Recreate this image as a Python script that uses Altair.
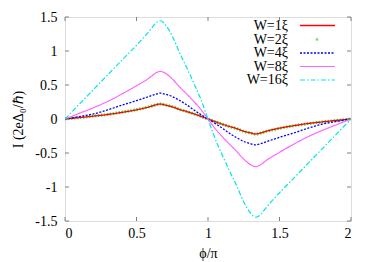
import altair as alt
import pandas as pd

phi = [0, 0.1, 0.2, 0.3, 0.4, 0.5, 0.6, 0.63, 0.667, 0.7, 0.75, 0.8, 0.85, 0.9, 0.95, 1.0,
       1.05, 1.1, 1.15, 1.2, 1.25, 1.3, 1.333, 1.37, 1.4, 1.5, 1.6, 1.7, 1.8, 1.9, 2.0]

w1 = [0, 0.02, 0.042, 0.066, 0.098, 0.135, 0.185, 0.204, 0.22, 0.205, 0.18, 0.14, 0.11, 0.076, 0.038, 0,
      -0.038, -0.076, -0.11, -0.14, -0.18, -0.205, -0.22, -0.204, -0.185, -0.135, -0.098, -0.066, -0.042, -0.02, 0]
w2 = [0, 0.021, 0.044, 0.068, 0.1, 0.137, 0.187, 0.206, 0.222, 0.207, 0.182, 0.142, 0.111, 0.077, 0.039, 0,
      -0.039, -0.077, -0.111, -0.142, -0.182, -0.207, -0.222, -0.206, -0.187, -0.137, -0.1, -0.068, -0.044, -0.021, 0]
w4 = [0, 0.035, 0.075, 0.135, 0.205, 0.27, 0.34, 0.362, 0.38, 0.365, 0.33, 0.275, 0.21, 0.135, 0.065, 0,
      -0.065, -0.135, -0.21, -0.275, -0.33, -0.365, -0.38, -0.362, -0.34, -0.27, -0.205, -0.135, -0.075, -0.035, 0]
w8 = [0, 0.083, 0.167, 0.26, 0.37, 0.49, 0.62, 0.67, 0.70, 0.675, 0.59, 0.475, 0.37, 0.26, 0.14, 0,
      -0.14, -0.26, -0.37, -0.475, -0.59, -0.675, -0.70, -0.67, -0.62, -0.49, -0.37, -0.26, -0.167, -0.083, 0]
w16 = [0, 0.218, 0.435, 0.652, 0.87, 1.085, 1.32, 1.40, 1.445, 1.39, 1.22, 0.98, 0.76, 0.53, 0.29, 0,
       -0.29, -0.53, -0.76, -0.98, -1.22, -1.39, -1.445, -1.40, -1.32, -1.085, -0.87, -0.652, -0.435, -0.218, 0]

names = ["W=1ξ", "W=2ξ", "W=4ξ", "W=8ξ", "W=16ξ"]
series = [w1, w2, w4, w8, w16]
colors = ["#ff0000", "#44dd44", "#0000ff", "#ff66ff", "#00e5e5"]
dashes = [[1, 0], [1.5, 1.5], [2, 1.5], [1, 0], [5, 2, 1.5, 2]]
widths = [1.3, 3, 1.3, 1.2, 1.2]

x_ticks = [0, 0.5, 1, 1.5, 2]
y_ticks = [-1.5, -1, -0.5, 0, 0.5, 1, 1.5]

W, H = 286, 204
FONT = "Liberation Serif"
FRAME = "#808080"

xscale = alt.Scale(domain=[0, 2], nice=False, zero=False)
yscale = alt.Scale(domain=[-1.5, 1.5], nice=False)

xaxis = alt.Axis(values=x_ticks, grid=False, domain=False, ticks=False,
                 labelExpr="toString(datum.value)", labelFont=FONT, labelFontSize=14,
                 labelColor="black", labelPadding=5, title="ϕ/π", titleFont=FONT,
                 titleFontSize=14, titleFontWeight="normal", titleColor="black",
                 titleX=W / 2, titleY=32, titleBaseline="middle", titleAlign="center")
yaxis = alt.Axis(values=y_ticks, grid=False, domain=False, ticks=False,
                 labelExpr="toString(datum.value)", labelFont=FONT, labelFontSize=14,
                 labelColor="black", labelPadding=8, title="I (2eΔ₀/ℏ)", titleFont=FONT,
                 titleFontSize=14, titleFontWeight="normal", titleColor="black",
                 titleAngle=270, titleX=-47, titleY=H / 2, titleBaseline="middle",
                 titleAlign="center")

layers = []
order = [1, 0, 2, 3, 4]
for i in order:
    df = pd.DataFrame({"phi": phi, "I": series[i]})
    layers.append(
        alt.Chart(df).mark_line(color=colors[i], strokeDash=dashes[i],
                                strokeWidth=widths[i], interpolate="monotone",
                                clip=True).encode(
            x=alt.X("phi:Q", scale=xscale, axis=xaxis),
            y=alt.Y("I:Q", scale=yscale, axis=yaxis),
        )
    )

ydf = pd.DataFrame({"v": y_ticks})
xdf = pd.DataFrame({"v": x_ticks})
tl = 4
layers.append(alt.Chart(ydf).mark_rule(color=FRAME).encode(
    y=alt.Y("v:Q", scale=yscale, axis=yaxis), x=alt.value(0), x2=alt.value(tl)))
layers.append(alt.Chart(ydf).mark_rule(color=FRAME).encode(
    y=alt.Y("v:Q", scale=yscale, axis=yaxis), x=alt.value(W - tl), x2=alt.value(W)))
layers.append(alt.Chart(xdf).mark_rule(color=FRAME).encode(
    x=alt.X("v:Q", scale=xscale, axis=xaxis), y=alt.value(0), y2=alt.value(tl)))
layers.append(alt.Chart(xdf).mark_rule(color=FRAME).encode(
    x=alt.X("v:Q", scale=xscale, axis=xaxis), y=alt.value(H - tl), y2=alt.value(H)))

row_y = [8.5, 22.5, 36, 49.5, 63]
for i, name in enumerate(names):
    tdf = pd.DataFrame({"t": [name]})
    layers.append(alt.Chart(tdf).mark_text(align="right", baseline="middle", font=FONT,
                                           fontSize=14, color="black").encode(
        text="t:N", x=alt.value(223), y=alt.value(row_y[i])))
    if i == 1:
        layers.append(alt.Chart(tdf).mark_point(shape="circle", filled=True, size=8,
                                                color=colors[i]).encode(
            x=alt.value(252), y=alt.value(row_y[i])))
    else:
        layers.append(alt.Chart(tdf).mark_rule(color=colors[i], strokeDash=dashes[i],
                                               strokeWidth=widths[i]).encode(
            x=alt.value(235), x2=alt.value(270), y=alt.value(row_y[i])))

chart = alt.layer(*layers).properties(
    width=W, height=H,
    autosize=alt.AutoSizeParams(type="none"),
    padding={"left": 57, "top": 9, "right": 15, "bottom": 41},
).configure_view(stroke=FRAME, strokeWidth=1.2).configure(background="white")

chart.save("out.html", embed_options={"renderer": "svg", "actions": False})
